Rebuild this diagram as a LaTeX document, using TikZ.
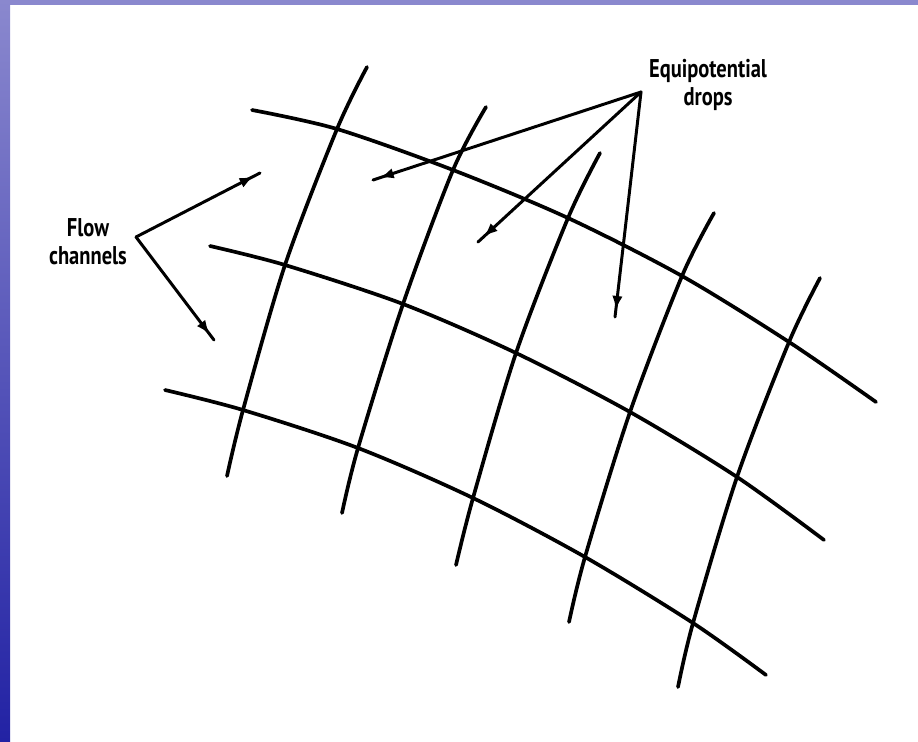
\documentclass[tikz,border=0pt]{standalone}
\usepackage{fontspec}
\newfontfamily\labelfont[FakeStretch=0.8]{PT Sans}
\usetikzlibrary{decorations.markings, arrows.meta}

\definecolor{bandtop}{RGB}{138,136,206}
\definecolor{bandbottom}{RGB}{34,34,164}

\tikzset{
  netline/.style={line width=2.1pt, line cap=round},
  pointer/.style={line width=1.7pt, line cap=round,
    decoration={markings, mark=at position -4pt with {\arrow{Latex[length=8pt,width=6pt]}}},
    postaction={decorate}},
  labeltext/.style={font=\labelfont\bfseries\fontsize{14.6pt}{16pt}\selectfont, align=center}
}

\begin{document}
\begin{tikzpicture}[x=0.02cm, y=-0.02cm]
  \useasboundingbox (0,0) rectangle (918,741);
  \shade[top color=bandtop, bottom color=bandbottom] (0,0) rectangle (10,741);
  \fill[bandtop] (10,0) rectangle (918,5);

  \coordinate (a0) at (252,110); \coordinate (a1) at (337,129); \coordinate (a2) at (453,170);
  \coordinate (a3) at (568,218); \coordinate (a4) at (682,276); \coordinate (a5) at (789,342);
  \coordinate (a6) at (876,402);
  \coordinate (b0) at (210,246); \coordinate (b1) at (285,265); \coordinate (b2) at (403,304);
  \coordinate (b3) at (516,353); \coordinate (b4) at (630,412); \coordinate (b5) at (737,477);
  \coordinate (b6) at (824,540);
  \coordinate (c0) at (165,390); \coordinate (c1) at (243,410); \coordinate (c2) at (358,448);
  \coordinate (c3) at (473,498); \coordinate (c4) at (585,557); \coordinate (c5) at (693,623);
  \coordinate (c6) at (766,675);
  \coordinate (t1) at (367,67);  \coordinate (u1) at (227,476);
  \coordinate (t2) at (486,107); \coordinate (u2) at (342,513);
  \coordinate (t3) at (600,153); \coordinate (u3) at (456,565);
  \coordinate (t4) at (714,213); \coordinate (u4) at (569,622);
  \coordinate (t5) at (820,278); \coordinate (u5) at (678,687);

  \draw[netline] plot[smooth] coordinates {(a0) (a1) (a2) (a3) (a4) (a5) (a6)};
  \draw[netline] plot[smooth] coordinates {(b0) (b1) (b2) (b3) (b4) (b5) (b6)};
  \draw[netline] plot[smooth] coordinates {(c0) (c1) (c2) (c3) (c4) (c5) (c6)};
  \draw[netline] plot[smooth] coordinates {(t1) (a1) (b1) (c1) (u1)};
  \draw[netline] plot[smooth] coordinates {(t2) (a2) (b2) (c2) (u2)};
  \draw[netline] plot[smooth] coordinates {(t3) (a3) (b3) (c3) (u3)};
  \draw[netline] plot[smooth] coordinates {(t4) (a4) (b4) (c4) (u4)};
  \draw[netline] plot[smooth] coordinates {(t5) (a5) (b5) (c5) (u5)};

  \node[labeltext] (flow) at (88,242) {Flow\\channels};
  \node[labeltext] (equi) at (708,85) {Equipotential\\drops};
  \coordinate (fv) at (136,237);
  \coordinate (f1) at (260,173);
  \coordinate (f2) at (214,340);
  \coordinate (ev) at (641,92);
  \coordinate (e1) at (373,180);
  \coordinate (e2) at (478,242);
  \coordinate (e3) at (615,317);
  \draw[pointer] (fv) -- (f1);  \draw[pointer] (fv) -- (f2);
  \draw[pointer] (ev) -- (e1);  \draw[pointer] (ev) -- (e2);
  \draw[pointer] (ev) -- (e3);
\end{tikzpicture}
\end{document}
